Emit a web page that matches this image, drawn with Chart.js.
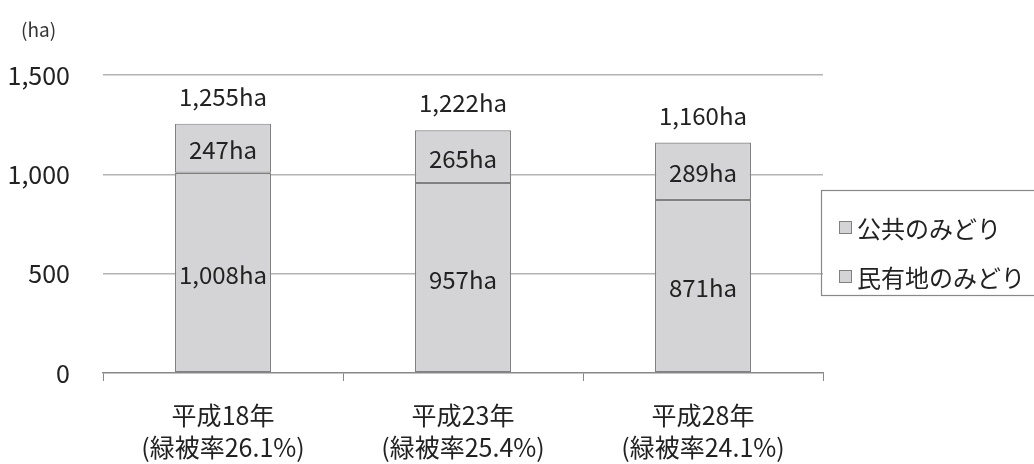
<!DOCTYPE html>
<html>
<head>
<meta charset="utf-8">
<script src="https://cdn.jsdelivr.net/npm/chart.js@4.4.0/dist/chart.umd.min.js"></script>
<style>
  html, body { margin: 0; padding: 0; background: #fff; }
  #wrap { width: 1034px; height: 464px; position: relative; }
</style>
</head>
<body>
<div id="wrap"><canvas id="greenChart" width="1034" height="464"></canvas></div>
<script>
// データ
var years = ['平成18年', '平成23年', '平成28年'];
var rates = ['(緑被率26.1%)', '(緑被率25.4%)', '(緑被率24.1%)'];
var privateGreen = [1008, 957, 871];   // 民有地のみどり
var publicGreen = [247, 265, 289];     // 公共のみどり
var totals = [1255, 1222, 1160];
var seriesNames = ['公共のみどり', '民有地のみどり'];
var yTicks = [0, 500, 1000, 1500];

var FONT = '"Noto Sans CJK JP", "Noto Sans", sans-serif';
var fmt = function(v) { return v.toLocaleString('en-US'); };

// 値ラベル・合計・凡例・単位
var labelPlugin = {
  id: 'labelPlugin',
  afterDatasetsDraw: function(chart) {
    var ctx = chart.ctx;
    ctx.save();
    ctx.fillStyle = '#222';
    ctx.font = '24px ' + FONT;
    ctx.textAlign = 'center';
    ctx.textBaseline = 'middle';
    chart.data.datasets.forEach(function(ds, di) {
      chart.getDatasetMeta(di).data.forEach(function(bar, i) {
        var mid = (bar.y + bar.base) / 2;
        ctx.fillText(fmt(ds.data[i]) + 'ha', bar.x, mid + 2);
      });
    });
    var topMeta = chart.getDatasetMeta(1);
    topMeta.data.forEach(function(bar, i) {
      ctx.fillText(fmt(totals[i]) + 'ha', bar.x, bar.y - 27);
    });

    // 単位
    ctx.fillStyle = '#333';
    ctx.font = '19px ' + FONT;
    ctx.textAlign = 'left';
    ctx.fillText('(ha)', 21, 30);

    // 凡例
    ctx.strokeStyle = '#888';
    ctx.lineWidth = 1.2;
    ctx.strokeRect(821.5, 190.5, 240, 105);
    ctx.font = '24px ' + FONT;
    var ly = [228, 277];
    seriesNames.forEach(function(name, k) {
      ctx.fillStyle = '#d4d4d6';
      ctx.fillRect(839, ly[k] - 7, 13, 13);
      ctx.strokeStyle = '#808080';
      ctx.lineWidth = 1;
      ctx.strokeRect(839.5, ly[k] - 6.5, 12, 12);
      ctx.fillStyle = '#222';
      ctx.fillText(name, 857, ly[k] + 1);
    });
    ctx.restore();
  }
};

var ctx = document.getElementById('greenChart').getContext('2d');
var greenChart = new Chart(ctx, {
  type: 'bar',
  data: {
    labels: years.map(function(y, i) { return [y, rates[i]]; }),
    datasets: [
      {
        label: seriesNames[1],
        data: privateGreen,
        backgroundColor: '#d4d4d6',
        borderColor: '#808080',
        borderWidth: 1.2,
        borderSkipped: false
      },
      {
        label: seriesNames[0],
        data: publicGreen,
        backgroundColor: '#d4d4d6',
        borderColor: '#808080',
        borderWidth: 1.2,
        borderSkipped: false
      }
    ]
  },
  options: {
    responsive: false,
    animation: false,
    layout: { padding: { left: 0, right: 211, top: 75, bottom: 0 } },
    plugins: {
      legend: { display: false },
      tooltip: { enabled: false }
    },
    datasets: { bar: { barPercentage: 0.4, categoryPercentage: 1.0 } },
    scales: {
      x: {
        stacked: true,
        afterFit: function(scale) { scale.height = 91; },
        grid: {
          display: true,
          offset: true,
          drawOnChartArea: false,
          drawTicks: true,
          tickLength: 8,
          color: '#888'
        },
        border: { display: true, color: '#888', width: 1.2 },
        ticks: {
          color: '#222',
          font: { family: FONT, size: 25, lineHeight: 1.3 },
          padding: 18
        }
      },
      y: {
        stacked: true,
        min: 0,
        max: 1500,
        afterFit: function(scale) { scale.width = 103; },
        afterBuildTicks: function(scale) {
          scale.ticks = yTicks.map(function(v) { return { value: v }; });
        },
        grid: { color: '#b4b4b8', lineWidth: 1.5, drawTicks: false },
        border: { display: false },
        ticks: {
          color: '#222',
          font: { family: FONT, size: 25 },
          padding: 33,
          callback: function(v) { return fmt(v); }
        }
      }
    }
  },
  plugins: [labelPlugin]
});
</script>
</body>
</html>
